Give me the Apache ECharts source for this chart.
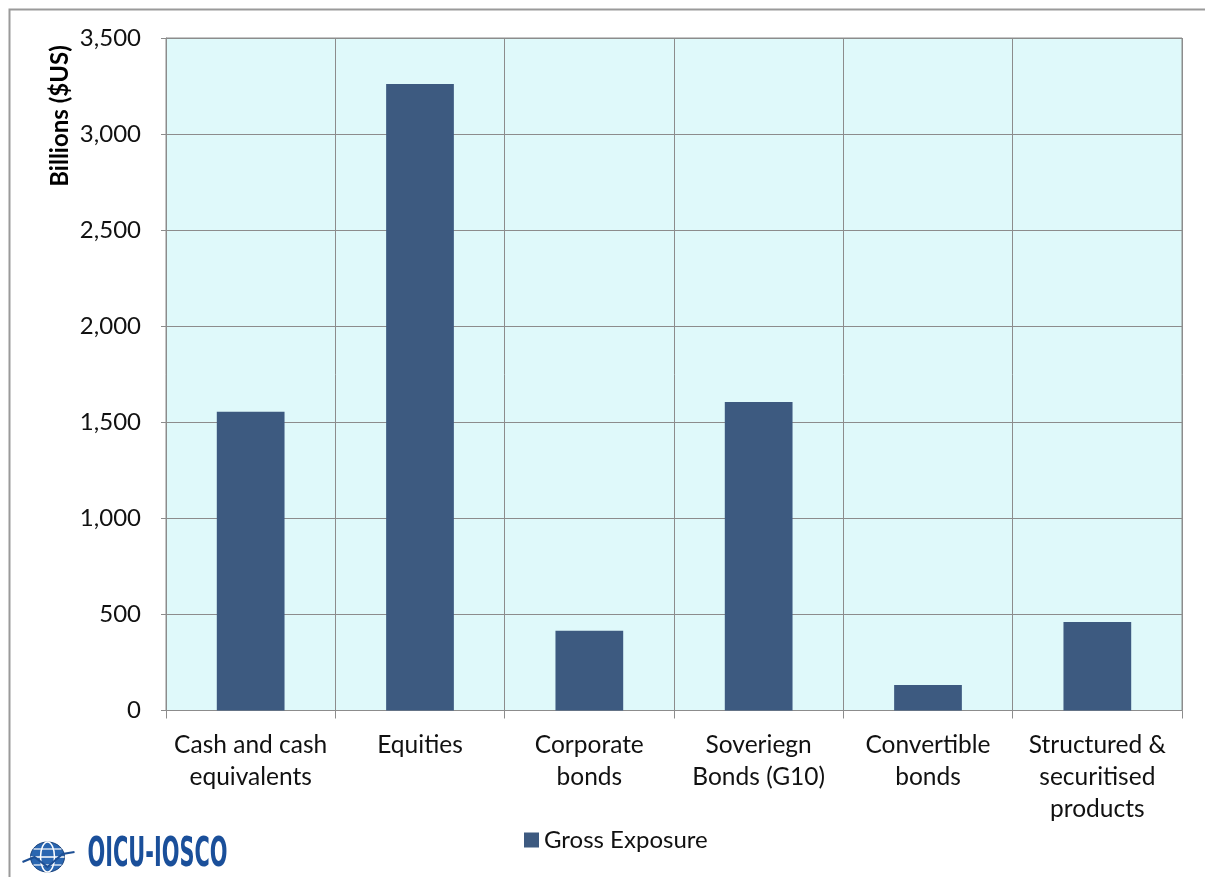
<!DOCTYPE html>
<html>
<head>
<meta charset="utf-8">
<script src="https://cdn.jsdelivr.net/npm/echarts@6/dist/echarts.min.js"></script>
<style>html,body{margin:0;padding:0;background:#fff}#c{width:1205px;height:877px}</style>
</head>
<body>
<div id="c"></div>
<script>
const categories = ["Cash and cash\nequivalents", "Equities", "Corporate\nbonds", "Soveriegn\nBonds (G10)", "Convertible\nbonds", "Structured &\nsecuritised\nproducts"];
const grossExposure = [1555, 3260, 415, 1605, 133, 461];
const yTicks = { min: 0, max: 3500, interval: 500 };
const seriesName = "Gross Exposure";
const yTitle = "Billions ($US)";

const FONT = "Lato";
const chart = echarts.init(document.getElementById('c'), null, { renderer: 'canvas' });
chart.setOption({
  animation: false,
  backgroundColor: '#ffffff',
  textStyle: { fontFamily: FONT },
  grid: { left: 166, top: 38, right: 23, bottom: 166.5, show: true, backgroundColor: '#DFF9FA', borderColor: '#8c8c8c', borderWidth: 1 },
  legend: {
    top: 823, left: 519, itemWidth: 15, itemHeight: 15, itemGap: 8,
    icon: 'rect',
    textStyle: { fontFamily: FONT, fontSize: 24, color: '#111' },
    data: [seriesName]
  },
  xAxis: {
    type: 'category', data: categories, boundaryGap: true,
    axisLine: { lineStyle: { color: '#8c8c8c', width: 1 } },
    axisTick: { show: true, length: 8, lineStyle: { color: '#8c8c8c' } },
    splitLine: { show: true, lineStyle: { color: '#8c8c8c', width: 1 } },
    axisLabel: { interval: 0, fontFamily: FONT, fontSize: 24.5, color: '#111', lineHeight: 32, margin: 19 }
  },
  yAxis: {
    type: 'value', min: yTicks.min, max: yTicks.max, interval: yTicks.interval,
    axisLine: { show: true, lineStyle: { color: '#8c8c8c' } },
    axisTick: { show: true, length: 5, lineStyle: { color: '#8c8c8c' } },
    splitLine: { show: true, lineStyle: { color: '#8c8c8c', width: 1 } },
    axisLabel: { fontFamily: FONT, fontSize: 24, color: '#111', margin: 25,
      formatter: v => v.toLocaleString('en-US') }
  },
  series: [{
    name: seriesName, type: 'bar', data: grossExposure, barWidth: '40%',
    itemStyle: { color: '#3D5A80' }
  }],
  graphic: [
    { type: 'rect', left: 7, top: 7, shape: { width: 1300, height: 1000 }, style: { fill: 'none', stroke: '#9a9a9a', lineWidth: 2 }, silent: true, z: -1 },
    { type: 'text', x: 60, y: 116, rotation: Math.PI / 2, style: { text: yTitle, fontFamily: FONT, fontWeight: 'bold', fontSize: 24, fill: '#000', align: 'center', verticalAlign: 'middle' } },
    { type: 'group', left: 20, top: 836, children: [
      { type: 'ellipse', shape: { cx: 25, cy: 20, rx: 17, ry: 15 }, style: { fill: '#2a66b0', stroke: '#17407a', lineWidth: 1 } },
      { type: 'ellipse', shape: { cx: 25, cy: 20, rx: 7, ry: 15 }, style: { fill: 'none', stroke: '#ffffff', lineWidth: 1.5 } },
      { type: 'line', shape: { x1: 8, y1: 20, x2: 42, y2: 20 }, style: { stroke: '#ffffff', lineWidth: 1.5 } },
      { type: 'line', shape: { x1: 11, y1: 12, x2: 39, y2: 12 }, style: { stroke: '#ffffff', lineWidth: 1.2 } },
      { type: 'line', shape: { x1: 11, y1: 28, x2: 39, y2: 28 }, style: { stroke: '#ffffff', lineWidth: 1.2 } },
      { type: 'polyline', shape: { points: [[0, 25], [12, 20], [25, 30], [40, 17], [52, 15]] }, style: { stroke: '#1d4f94', lineWidth: 2, fill: 'none' } },
      { type: 'text', x: 65, y: 19, scaleX: 0.58, style: { text: 'OICU-IOSCO', fontFamily: 'DejaVu Sans Condensed', fontWeight: 'bold', fontSize: 40, fill: '#1a4f9a', verticalAlign: 'middle', align: 'left' } }
    ]}
  ]
});
</script>
</body>
</html>
